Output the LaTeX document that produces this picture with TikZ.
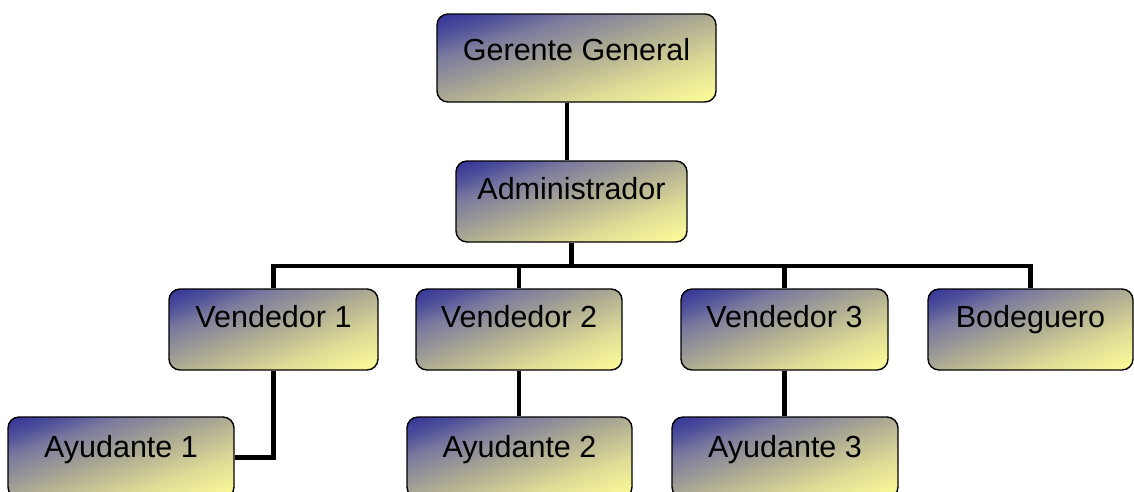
\documentclass[tikz,border=0pt]{standalone}
\usepackage{fontspec}
\setmainfont{Liberation Sans}
\usetikzlibrary{backgrounds}
\definecolor{deepblue}{RGB}{51,51,153}
\definecolor{paleyellow}{RGB}{255,255,153}
\definecolor{rampA}{RGB}{78,78,155}
\definecolor{rampB}{RGB}{122,122,158}
\definecolor{rampC}{RGB}{174,171,147}
\definecolor{rampD}{RGB}{222,220,150}

% diagonal ramp, box corners land on 50bp (top left) and 150bp (bottom right)
\pgfdeclarehorizontalshading{orgramp}{200bp}{%
  color(0bp)=(deepblue); color(50bp)=(deepblue);
  color(62bp)=(rampA); color(75bp)=(rampB); color(100bp)=(rampC);
  color(125bp)=(rampD); color(150bp)=(paleyellow); color(200bp)=(paleyellow)}

\makeatletter
% fill the current box with the ramp running corner to corner
\newcommand\orgshade{%
  \pgfpointanchor{path picture bounding box}{south west}%
  \edef\orgxa{\the\pgf@x}\edef\orgya{\the\pgf@y}%
  \pgfpointanchor{path picture bounding box}{north east}%
  \edef\orgxb{\the\pgf@x}\edef\orgyb{\the\pgf@y}%
  \pgfmathsetmacro\orgcx{0.5*(\orgxa+\orgxb)}%
  \pgfmathsetmacro\orgcy{0.5*(\orgya+\orgyb)}%
  \pgfmathsetmacro\orgsx{(\orgxb-\orgxa)/70.975}%
  \pgfmathsetmacro\orgsy{(\orgyb-\orgya)/70.975}%
  \begin{pgfscope}%
    \pgftransformshift{\pgfpoint{\orgcx pt}{\orgcy pt}}%
    \pgftransformxscale{\orgsx}%
    \pgftransformyscale{\orgsy}%
    \pgftransformrotate{-45}%
    \pgflowlevelsynccm
    \pgfuseshading{orgramp}%
  \end{pgfscope}%
}
\makeatother

\tikzset{
  orgbox/.style={draw=black, line width=1.4pt, rounded corners=11pt,
    path picture={\orgshade},
    inner sep=0pt, align=center, font=\fontsize{30.5}{36}\selectfont,
    text height=38pt, text depth=43pt},
  helper/.style={orgbox, text height=40pt, text depth=41pt},
  link/.style={line width=4.8pt, draw=black}
}
\begin{document}
\begin{tikzpicture}[x=1pt,y=-1pt]
\path[use as bounding box, clip] (0,0) rectangle (1134,491);

% management
\node[orgbox, minimum width=279pt, text height=46pt, text depth=42pt] (gg) at (576.5,58) {Gerente General};
\node[orgbox, minimum width=231pt] (adm) at (571.5,201.5) {Administrador};

% staff
\node[orgbox, minimum width=209pt] (v1) at (273.5,329.5) {Vendedor 1};
\node[orgbox, minimum width=206pt] (v2) at (519,329.5) {Vendedor 2};
\node[orgbox, minimum width=207pt] (v3) at (784.5,329.5) {Vendedor 3};
\node[orgbox, minimum width=205pt] (bod) at (1030.5,329.5) {Bodeguero};

% assistants
\node[helper, minimum width=226pt] (a1) at (121,457.5) {Ayudante 1};
\node[helper, minimum width=225pt] (a2) at (519.5,457.5) {Ayudante 2};
\node[helper, minimum width=226pt] (a3) at (785,457.5) {Ayudante 3};

% connector guides
\coordinate (ggdrop) at (567,0);
\coordinate (bar) at (571.5,266);

\begin{scope}[on background layer]
  \draw[link] (gg.south -| ggdrop) -- (adm.north -| ggdrop);
  \draw[link] (adm.south) -- (adm.south |- bar);
  \draw[link] (v1.north) |- (bar) -| (bod.north);
  \draw[link] (v2.north) -- (v2.north |- bar);
  \draw[link] (v3.north) -- (v3.north |- bar);
  \draw[link] (v1.south) |- (a1.east);
  \draw[link] (v2.south) -- (v2.south |- a2.north);
  \draw[link] (v3.south) -- (v3.south |- a3.north);
\end{scope}
\end{tikzpicture}
\end{document}
